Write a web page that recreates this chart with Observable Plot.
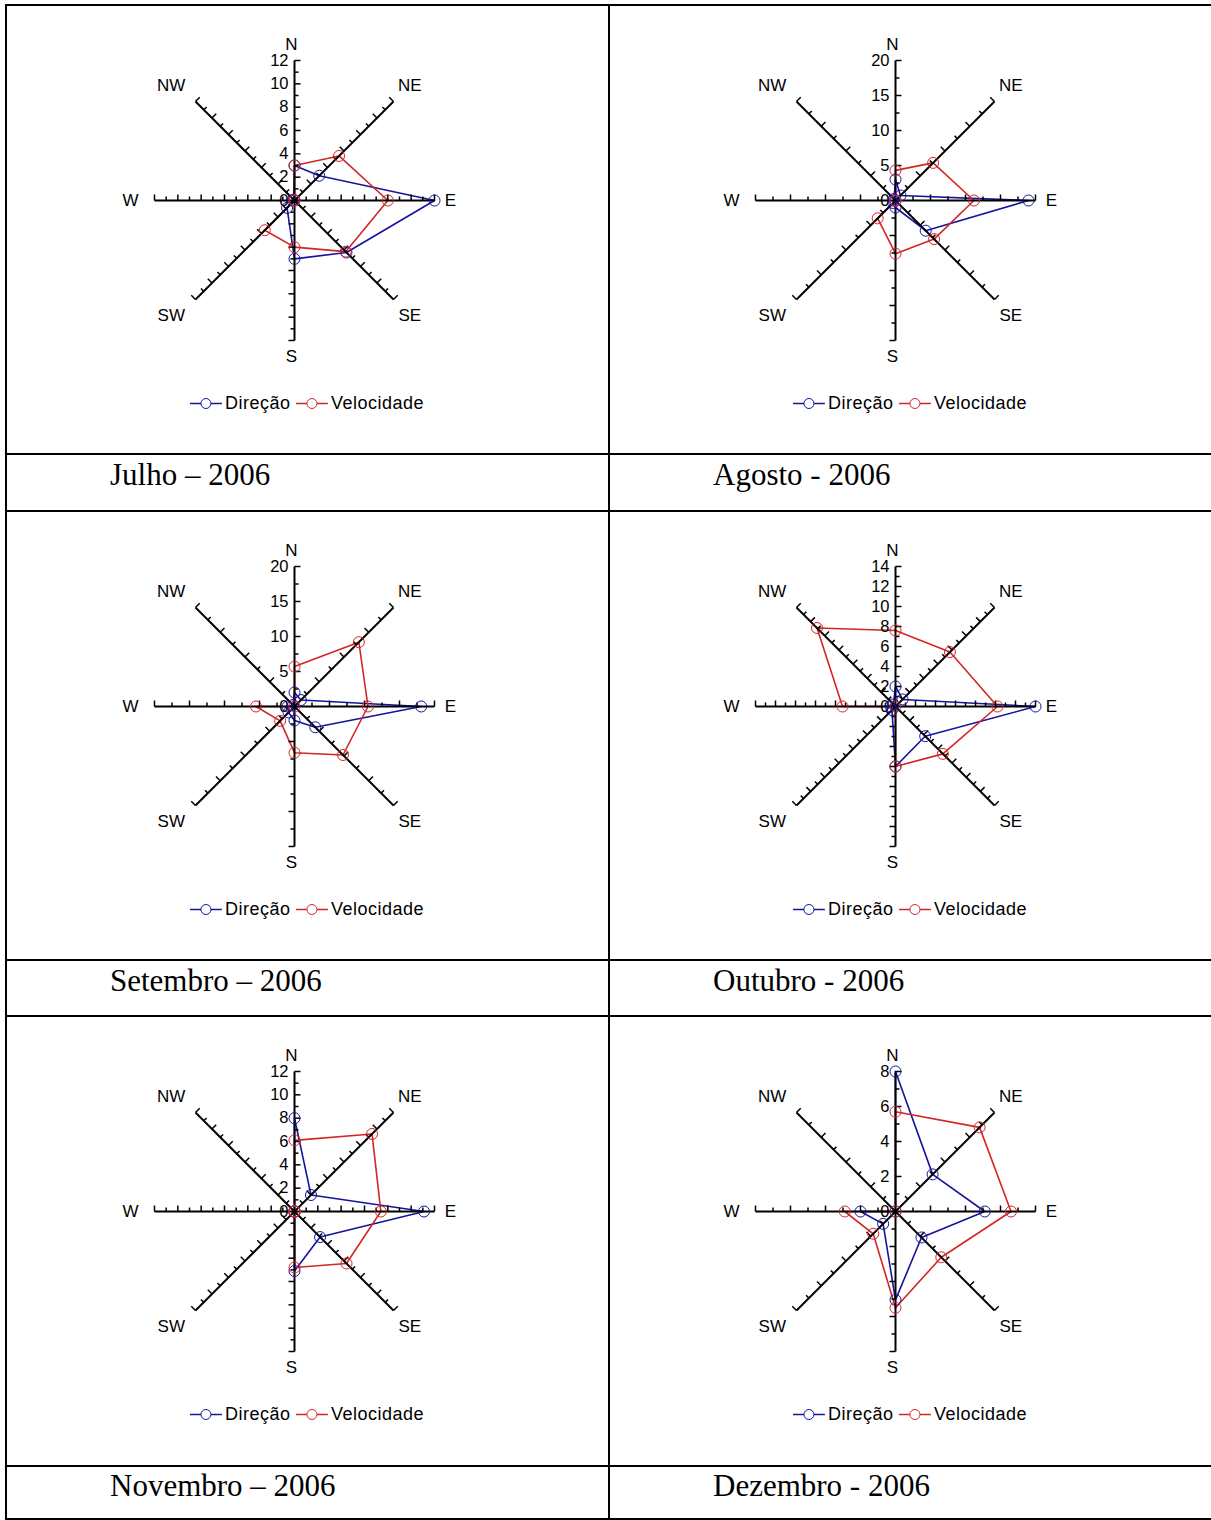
<!DOCTYPE html>
<html><head><meta charset="utf-8">
<script src="https://cdn.jsdelivr.net/npm/d3@7"></script>
<script src="https://cdn.jsdelivr.net/npm/@observablehq/plot@0.6"></script>
<style>
body{margin:0;background:#fff;}
#page{position:relative;width:1211px;height:1520px;overflow:hidden;font-family:"Liberation Sans",Arial,sans-serif;background:#fff;}
.hl{position:absolute;height:2px;background:#000;}
.vl{position:absolute;width:2px;background:#000;}
.cap{position:absolute;font-family:"Liberation Serif","Times New Roman",serif;font-size:31px;line-height:31px;white-space:nowrap;color:#000;}
.leg{position:absolute;font-size:18px;letter-spacing:0.5px;display:flex;align-items:center;transform:translate(-50%,-50%);white-space:nowrap;color:#000;}
.leg svg{display:block;margin:0 3px 0 0;}
.panel{position:absolute;}
</style></head><body><div id="page"></div>
<script>
// ---- data ----
const directions = ["N","NE","E","SE","S","SW","W","NW"];
const captions = ["Julho – 2006","Agosto - 2006","Setembro – 2006","Outubro - 2006","Novembro – 2006","Dezembro - 2006"];
const axisMax   = [12, 20, 20, 14, 12, 8];
const labelStep = [2, 5, 5, 2, 2, 2];
const tickStep  = [1, 2.5, 2.5, 1, 1, 1];
const seriesNames = ["Direção","Velocidade"];

// values in order N, NE, E, SE, S, SW, W, NW
const direcaoJulho      = [3, 3, 12, 6.3, 5, 0.9, 0.2, 0.1];
const velocidadeJulho   = [3, 5.4, 8, 6.2, 4, 3.6, 0, 0];
const direcaoAgosto     = [3, 1, 19, 6.1, 1, 0.5, 0.3, 0.3];
const velocidadeAgosto  = [4.3, 7.6, 11.2, 7.8, 7.6, 3.6, 0, 0];
const direcaoSetembro   = [2, 1.3, 18.1, 4.2, 2, 1.2, 1.0, 0.3];
const velocidadeSetembro= [5.7, 13, 10.5, 9.8, 6.6, 2.9, 5.5, 0];
const direcaoOutubro    = [2, 1, 14, 4.2, 6, 0.5, 0.5, 0.3];
const velocidadeOutubro = [7.6, 7.7, 10.2, 6.7, 6, 0, 5.3, 11.1];
const direcaoNovembro   = [8, 2, 11.1, 3.1, 5.1, 0, 0, 0];
const velocidadeNovembro= [6.1, 9.4, 7.4, 6.3, 4.8, 0, 0, 0];
const direcaoDezembro   = [8, 3, 5.1, 2.1, 5.05, 1, 2, 0];
const velocidadeDezembro= [5.7, 6.8, 6.6, 3.7, 5.5, 1.8, 2.9, 0];

const direcao = [direcaoJulho, direcaoAgosto, direcaoSetembro, direcaoOutubro, direcaoNovembro, direcaoDezembro];
const velocidade = [velocidadeJulho, velocidadeAgosto, velocidadeSetembro, velocidadeOutubro, velocidadeNovembro, velocidadeDezembro];

// ---- layout ----
const BLUE = "#14149c", RED = "#d22626";
const R = 140, M = 40, SIZE = 2 * (R + M);
const colCenter = [294, 895];
const cellCenter = [307, 910];
const rowCenter = [200, 706, 1211];
const page = document.getElementById("page");

function addDiv(cls, style, html) {
  const d = document.createElement("div");
  d.className = cls;
  Object.assign(d.style, style);
  if (html != null) d.innerHTML = html;
  page.appendChild(d);
  return d;
}

// table borders
[4, 453, 509.5, 959, 1015, 1465, 1518].forEach(y => addDiv("hl", {left: "5px", top: y + "px", width: "1206px"}));
addDiv("vl", {left: "5px", top: "4px", height: "1516px"});
addDiv("vl", {left: "608px", top: "4px", height: "1516px"});

const ang = i => i * Math.PI / 4;
const sideVec = [[1,0],[-Math.SQRT1_2,Math.SQRT1_2],[0,1],[Math.SQRT1_2,Math.SQRT1_2],[-1,0],[-Math.SQRT1_2,Math.SQRT1_2],[0,1],[Math.SQRT1_2,Math.SQRT1_2]];

function panel(k) {
  const max = axisMax[k], px = max / R; // data units per pixel
  const toPts = vals => vals.map((v, i) => ({dir: directions[i], x: v * Math.sin(ang(i)), y: v * Math.cos(ang(i))}));
  const closed = p => p.concat([p[0]]);
  const dPts = toPts(direcao[k]);
  const vPts = toPts(velocidade[k]);

  const axes = directions.map((d, i) => ({x2: max * Math.sin(ang(i)), y2: max * Math.cos(ang(i))}));

  const ticks = [];
  directions.forEach((d, i) => {
    const n = Math.round(max / tickStep[k]);
    for (let j = 1; j <= n; j++) {
      const t = j * tickStep[k];
      const major = Math.abs(t / labelStep[k] - Math.round(t / labelStep[k])) < 1e-6;
      const len = (major ? 6 : 4) * px;
      const x = t * Math.sin(ang(i)), y = t * Math.cos(ang(i));
      ticks.push({x1: x, y1: y, x2: x + sideVec[i][0] * len, y2: y + sideVec[i][1] * len});
    }
  });

  const labels = d3.range(0, max + 1e-9, labelStep[k]);

  const compass = directions.map((d, i) => {
    const dist = (i % 2 === 0) ? 156 : 163;
    const dx = (i >= 5) ? -8 : (i === 0 || i === 4 ? -3 : 0);
    return {text: d, x: (dist * Math.sin(ang(i)) + dx) * px, y: dist * Math.cos(ang(i)) * px};
  });

  const chart = Plot.plot({
    width: SIZE, height: SIZE, margin: M,
    x: {domain: [-max, max], axis: null},
    y: {domain: [-max, max], axis: null},
    style: {fontFamily: "'Liberation Sans', Arial, sans-serif", background: "transparent", overflow: "visible", color: "#000"},
    marks: [
      Plot.line(closed(dPts), {x: "x", y: "y", stroke: BLUE, strokeWidth: 1.6, curve: "linear"}),
      Plot.line(closed(vPts), {x: "x", y: "y", stroke: RED, strokeWidth: 1.6, curve: "linear"}),
      Plot.link(axes, {x1: 0, y1: 0, x2: "x2", y2: "y2", stroke: "#000", strokeWidth: 2}),
      Plot.link(ticks, {x1: "x1", y1: "y1", x2: "x2", y2: "y2", stroke: "#000", strokeWidth: 1.5}),
      Plot.text(labels, {x: 0, y: d => d, text: d => String(d), textAnchor: "end", dx: -6, fontSize: 16.5, fill: "#000"}),
      Plot.text(compass, {x: "x", y: "y", text: "text", fontSize: 17, fill: "#000", letterSpacing: "0.5px"}),
      Plot.dot(dPts, {x: "x", y: "y", r: 5.5, stroke: BLUE, fill: "none", strokeWidth: 1}),
      Plot.dot(vPts, {x: "x", y: "y", r: 5.5, stroke: RED, fill: "none", strokeWidth: 1})
    ]
  });
  const col = k % 2, row = Math.floor(k / 2);
  const wrap = addDiv("panel", {left: (colCenter[col] - SIZE / 2) + "px", top: (rowCenter[row] - SIZE / 2) + "px"});
  wrap.appendChild(chart);

  // legend
  const sym = c => `<svg width="32" height="12"><line x1="0" y1="6" x2="11" y2="6" stroke="${c}" stroke-width="1.6"/><line x1="21" y1="6" x2="32" y2="6" stroke="${c}" stroke-width="1.6"/><circle cx="16" cy="6" r="5" fill="none" stroke="${c}" stroke-width="1"/></svg>`;
  addDiv("leg", {left: cellCenter[col] + "px", top: (rowCenter[row] + 203) + "px"},
    `${sym(BLUE)}<span>${seriesNames[0]}</span>&nbsp;${sym(RED)}<span>${seriesNames[1]}</span>`);

  // caption
  addDiv("cap", {left: (col === 0 ? 110 : 713) + "px", top: (rowCenter[row] + 259) + "px"}, captions[k]);
}

for (let k = 0; k < 6; k++) panel(k);
</script>
</body></html>
